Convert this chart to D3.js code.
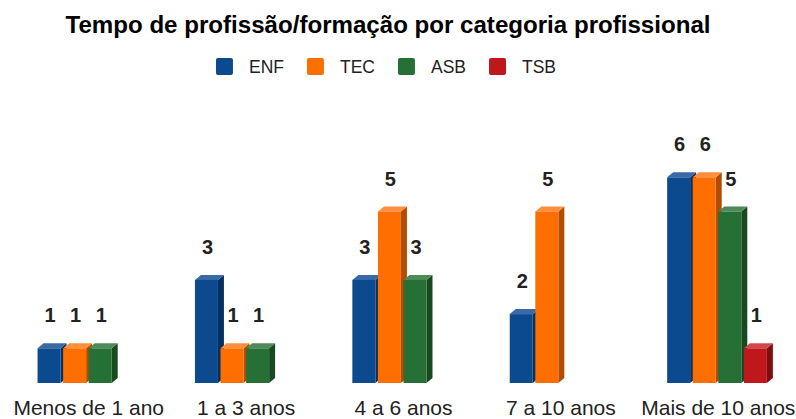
<!DOCTYPE html>
<html>
<head>
<meta charset="utf-8">
<script src="https://cdn.jsdelivr.net/npm/d3@7"></script>
<style>
  body { margin: 0; background: #fff; }
  svg { display: block; font-family: "Liberation Sans", Arial, sans-serif; }
</style>
</head>
<body>
<div id="chart"></div>
<script>
// chart data
var categories = ["Menos de 1 ano", "1 a 3 anos", "4 a 6 anos", "7 a 10 anos", "Mais de 10 anos"];
var seriesNames = ["ENF", "TEC", "ASB", "TSB"];
var enf = [1, 3, 3, 2, 6];
var tec = [1, 1, 5, 5, 6];
var asb = [1, 1, 3, 0, 5];
var tsb = [0, 0, 0, 0, 1];
var seriesValues = [enf, tec, asb, tsb];

// front / side / top colours per series
var colors = {
    ENF: {front: "#0c4a90", side: "#08305e", top: "#3a6aa6"},
    TEC: {front: "#ff6e00", side: "#b24d00", top: "#ff8f3e"},
    ASB: {front: "#277035", side: "#184a22", top: "#4f8a5b"},
    TSB: {front: "#c0171c", side: "#7d0e12", top: "#d0484c"}
};

var width = 796, height = 419;
var depthX = 6, depthY = 5;   // fake 3d offset
var barW = 23;

var svg = d3.select("#chart").append("svg")
    .attr("width", width)
    .attr("height", height);

// title
svg.append("text")
    .attr("x", 388)
    .attr("y", 33)
    .attr("text-anchor", "middle")
    .attr("font-size", 23)
    .attr("font-weight", "bold")
    .attr("fill", "#000")
    .attr("textLength", 645)
    .attr("lengthAdjust", "spacingAndGlyphs")
    .text("Tempo de profissão/formação por categoria profissional");

// legend
var legend = svg.append("g");
var lx = 0;
seriesNames.forEach(function(name) {
    var item = legend.append("g").attr("transform", "translate(" + lx + ",0)");
    item.append("rect")
        .attr("x", 0).attr("y", 58)
        .attr("width", 17).attr("height", 17)
        .attr("rx", 2)
        .attr("fill", colors[name].front);
    var t = item.append("text")
        .attr("x", 33).attr("y", 73)
        .attr("font-size", 17.5)
        .attr("fill", "#222")
        .text(name);
    lx += 33 + t.node().getComputedTextLength() + 23;
});
var legendW = lx - 23;
legend.attr("transform", "translate(" + (386 - legendW / 2) + ",0)");

// scales
var x0 = d3.scaleBand()
    .domain(categories)
    .range([10, 797])
    .paddingInner(0.35)
    .paddingOuter(0.175);

var x1 = d3.scaleBand()
    .domain(seriesNames)
    .range([0, x0.bandwidth()]);

var y = d3.scaleLinear()
    .domain([0, 6])
    .range([382.5, 177.3]);

// flatten into bar records
var bars = [];
categories.forEach(function(cat, ci) {
    seriesNames.forEach(function(name, si) {
        var v = seriesValues[si][ci];
        if (v > 0) bars.push({cat: cat, name: name, value: v});
    });
});

var base = y(0) + 0.5;
var g = svg.append("g");
var barG = g.selectAll("g.bar")
    .data(bars)
    .join("g")
    .attr("class", "bar");

barG.append("polygon")
    .attr("points", function(d) {
        var xl = x0(d.cat) + x1(d.name), xr = xl + barW, yt = y(d.value);
        return [[xr, yt], [xr + depthX, yt - depthY], [xr + depthX, base - depthY], [xr, base]].join(" ");
    })
    .attr("fill", d => colors[d.name].side);

barG.append("polygon")
    .attr("points", function(d) {
        var xl = x0(d.cat) + x1(d.name), xr = xl + barW, yt = y(d.value);
        return [[xl, yt], [xl + depthX, yt - depthY], [xr + depthX, yt - depthY], [xr, yt]].join(" ");
    })
    .attr("fill", d => colors[d.name].top);

barG.append("rect")
    .attr("x", d => x0(d.cat) + x1(d.name))
    .attr("y", d => y(d.value))
    .attr("width", barW)
    .attr("height", d => base - y(d.value))
    .attr("fill", d => colors[d.name].front);

// value labels
g.selectAll("text.val")
    .data(bars)
    .join("text")
    .attr("class", "val")
    .attr("x", d => x0(d.cat) + x1(d.name) + barW / 2 + 1)
    .attr("y", d => y(d.value) - 26)
    .attr("text-anchor", "middle")
    .attr("font-size", 20)
    .attr("font-weight", "bold")
    .attr("fill", "#222")
    .text(d => d.value);

// category axis labels
svg.append("g")
    .selectAll("text")
    .data(categories)
    .join("text")
    .attr("x", d => x0(d) + x0.bandwidth() / 2)
    .attr("y", 415)
    .attr("text-anchor", "middle")
    .attr("font-size", 21)
    .attr("fill", "#222")
    .text(d => d);
</script>
</body>
</html>
